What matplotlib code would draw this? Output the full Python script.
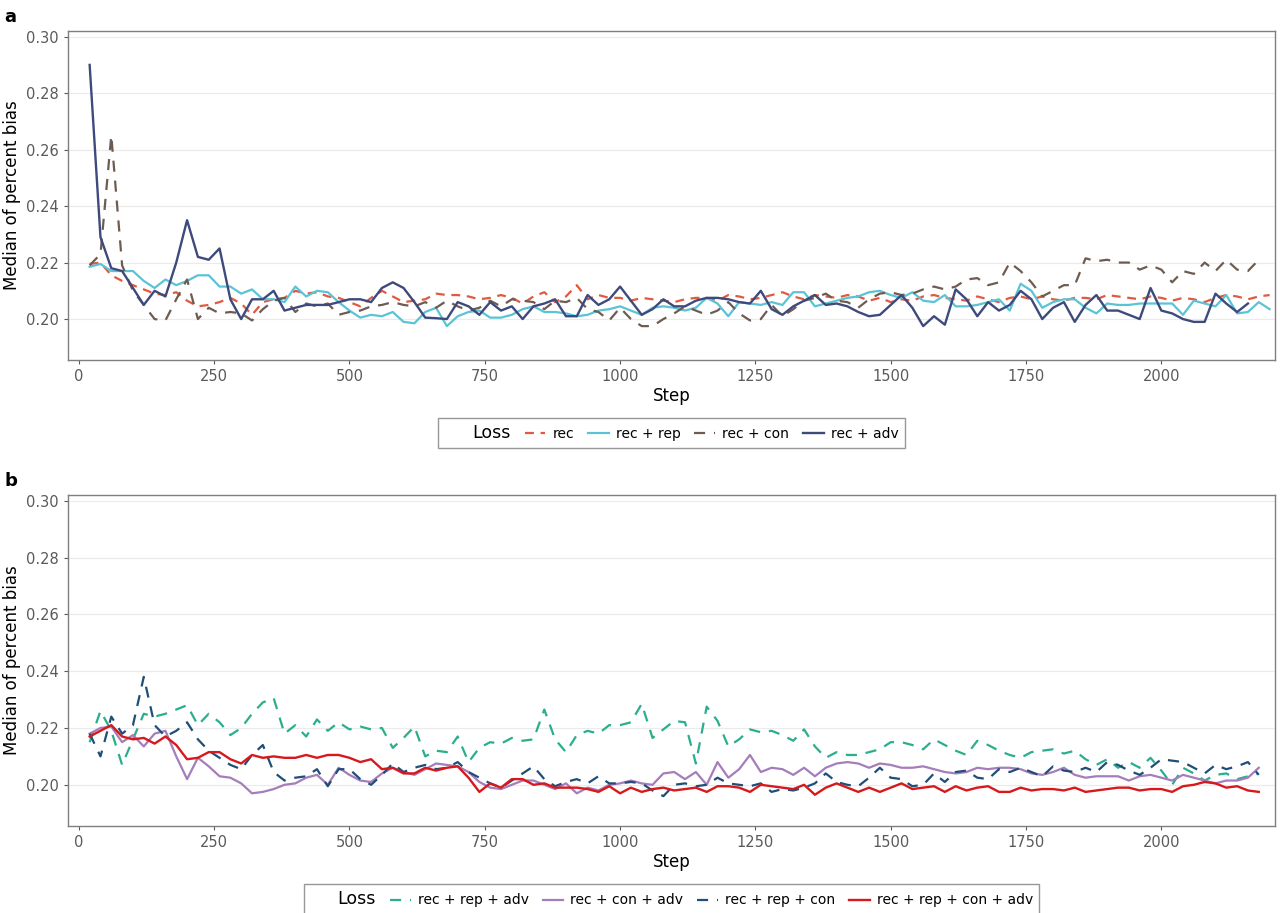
import numpy as np
import matplotlib
matplotlib.use("Agg")
import matplotlib.pyplot as plt
from matplotlib.lines import Line2D

rec = [.2195,.220,.2155,.2135,.212,.2105,.209,.2085,.2095,.2065,.2045,.205,.2060,.2075,.2055,.2015,.2060,.2070,.2075,.210,.209,.2095,.2080,.2075,.2060,.2045,.2075,.2100,.2080,.2060,.2065,.2070,.2090,.2085,.2085,.2080,.2070,.2075,.2085,.2075,.2055,.2080,.2095,.2060,.2080,.2120,.2070,.2085,.2075,.2075,.2065,.2075,.2070,.2065,.2060,.2070,.2075,.2075,.2065,.2085,.2080,.2070,.2075,.2085,.2095,.2080,.2070,.2085,.2080,.2075,.2085,.2080,.2065,.2075,.2060,.2070,.2065,.2080,.2085,.2075,.2070,.2065,.2080,.2070,.2060,.2075,.2080,.2070,.2080,.2070,.2065,.2075,.2075,.2070,.2085,.2080,.2075,.2070,.2080,.2075,.2065,.2075,.2070,.2060,.2075,.2085,.2080,.2070,.2080,.2085]
rec_rep = [.2185,.2195,.217,.217,.217,.2135,.211,.214,.212,.2135,.2155,.2155,.2115,.2115,.209,.2105,.207,.207,.206,.2115,.208,.210,.2095,.206,.203,.2005,.2015,.201,.2025,.199,
           .1985,.2025,.204,.1975,.201,.2025,.203,.2005,.2005,.2015,.2035,.2045,.2025,.2025,.2020,.2010,.2015,.203,.2035,.2045,.2030,.2015,.204,.2045,.2040,.203,.204,.2075,.2055,.201,.206,.2055,.205,.206,.205,.2095,.2095,.2045,.2055,.2065,.2075,.2080,.2095,.210,.2085,.2075,.2095,.2065,.206,.2085,.2045,.2045,.205,.206,.207,.203,.2125,.210,.2040,.206,.207,.207,.204,.202,.2055,.2050,.205,.2055,.2055,.2055,.2055,.2015,.2065,.2055,.2045,.2085,.202,.2025,.206,.2035]
rec_con = [.219,.223,.265,.219,.210,.205,.200,.1995,.207,.214,.200,.204,.202,.2025,.2020,.1995,.2035,.2065,.2075,.2025,.2055,.2045,.2055,.2015,.2025,.203,.2045,.2050,.2060,.2050,.2045,.2060,.2040,.2065,.2045,.2030,.2040,.2065,.2045,.2070,.2065,.2060,.2035,.2065,.2060,.2075,.2035,.2025,.1995,.2040,.2000,.1975,.1975,.2000,.2020,.2045,.2030,.2015,.2030,.2060,.2020,.1995,.2000,.2050,.2010,.2035,.2065,.2075,.2090,.2065,.2060,.2040,.2070,.2090,.2095,.2085,.2090,.2105,.2115,.2105,.2115,.2140,.2145,.2120,.2130,.2200,.2170,.2130,.2080,.2100,.2120,.2120,.2215,.2205,.2210,.2200,.2200,.2175,.2190,.2175,.2130,.2170,.2160,.2200,.2170,.2210,.2175,.2170,.2210]
rec_adv = [.290,.229,.218,.217,.211,.205,.210,.208,.220,.235,.222,.221,.225,.207,.200,.207,.207,.210,.203,.204,.205,.205,.205,.206,.207,.207,.206,.211,.213,.211,
           .206,.2005,.2003,.2000,.206,.2045,.2015,.206,.203,.2045,.200,.2045,.2055,.207,.201,.201,.2085,.205,.207,.2115,.2065,.2015,.2035,.207,.2045,.2045,.2065,.2075,.2075,.207,.206,.2055,.210,.2035,.2015,.2045,.2065,.2085,.205,.2055,.2045,.2025,
           .201,.2015,.205,.2085,.204,.1975,.201,.198,.2105,.207,.201,.206,.203,.205,.210,.207,.200,.204,.206,.199,.205,.2085,.203,.203,.2015,.200,.211,.203,.202,.200,.199,.199,.209,.2055,.2025,.2055]

rep_adv = [.215,.226,.219,.207,.216,.225,.224,.225,.2265,.228,.221,.225,.222,.2175,.220,.225,.229,.2305,.218,.221,.217,.223,.219,.222,.2195,.2205,.2195,.220,.213,.2165,.2205,.210,.212,.2115,.217,.208,.213,.215,.2145,.2165,.2155,.216,.2265,.216,.2115,.2175,.219,.218,.221,.221,.222,.2285,.2165,.2195,.2225,.222,.2075,.2275,.2225,.2135,.216,.2195,.2185,.219,.2175,.2155,.2195,.2135,.2095,.2115,.2105,.2105,.2115,.2125,.2150,.2150,.2140,.2125,.2160,.2140,.2120,.2105,.2155,.2140,.2120,.2105,.2095,.2115,.2120,.2125,.2110,.2120,.2090,.2070,.2090,.2060,.2080,.2060,.2095,.2050,.2000,.2060,.2040,.2015,.2035,.2040,.2020,.2030,.2040]
con_adv = [.218,.220,.2205,.215,.2175,.2135,.218,.219,.210,.202,.2095,.2065,.203,.2025,.2005,.197,.1975,.1985,.2,.2005,.2025,.2035,.2,.2060,.2035,.2015,.201,.204,.206,.2045,.2035,.2055,.2075,.207,.2065,.2045,.2010,.1990,.1985,.2000,.2015,.2015,.2000,.1985,.2005,.1970,.1990,.1980,.2000,.2005,.2015,.2005,.2000,.2040,.2045,.2020,.2045,.2000,.2080,.2025,.2055,.2105,.2045,.2060,.2055,.2035,.2060,.2030,.2060,.2075,.2080,.2075,.2060,.2075,.2070,.2060,.2060,.2065,.2055,.2045,.2040,.2045,.2060,.2055,.2060,.2060,.2055,.2040,.2035,.2045,.2060,.2035,.2025,.2030,.2030,.2030,.2015,.2030,.2035,.2025,.2015,.2035,.2025,.2015,.2005,.2015,.2015,.2025,.2060]
rep_con = [.218,.210,.224,.218,.221,.238,.221,.217,.219,.222,.216,.212,.2095,.207,.2055,.2105,.214,.2045,.2015,.2025,.203,.2055,.1995,.2055,.2055,.202,.200,.2035,.2075,.2045,.206,.207,.2055,.206,.208,.2045,.2025,.2005,.199,.2015,.204,.2065,.2020,.1995,.2010,.2020,.2005,.2030,.2005,.2005,.201,.2005,.198,.196,.200,.2005,.1995,.200,.2025,.2005,.2000,.1995,.2005,.1975,.1985,.1980,.1990,.2005,.2040,.2010,.2000,.1995,.2025,.2060,.2025,.2020,.1995,.2000,.2040,.2010,.2045,.2050,.2025,.2020,.2055,.2045,.2060,.2045,.2030,.2065,.2050,.2045,.2060,.2045,.2080,.2070,.2050,.2035,.2060,.2090,.2085,.2080,.2060,.2040,.2070,.2055,.2065,.2080,.2035]
all4 = [.217,.219,.221,.217,.216,.2165,.2145,.217,.214,.209,.2095,.2115,.2115,.209,.2075,.2105,.2095,.210,.2095,.2095,.2105,.2095,.2105,.2105,.2095,.2080,.2090,.2055,.2060,.2040,.2040,.2060,.2050,.2060,.2065,.2025,.1975,.2005,.1990,.2020,.2020,.2000,.2005,.1990,.1990,.1990,.1985,.1975,.1995,.1970,.1990,.1975,.1985,.1990,.1980,.1985,.1990,.1975,.1995,.1995,.1990,.1975,.2000,.1995,.1990,.1985,.2000,.1965,.1990,.2005,.1990,.1975,.1990,.1975,.1990,.2005,.1985,.1990,.1995,.1975,.1995,.1980,.1990,.1995,.1975,.1975,.1990,.1980,.1985,.1985,.1980,.1990,.1975,.1980,.1985,.1990,.1990,.1980,.1985,.1985,.1975,.1995,.2000,.2010,.2005,.1990,.1995,.1980,.1975]

labels_a = ["rec", "rec + rep", "rec + con", "rec + adv"]
labels_b = ["rec + rep + adv", "rec + con + adv", "rec + rep + con", "rec + rep + con + adv"]

def steps(v):
    return 20 * (np.arange(len(v)) + 1)

fig = plt.figure(figsize=(12.8, 9.13), dpi=100)
W, H = 1280, 913
def ax_at(l, t, r, b):
    return fig.add_axes([l / W, 1 - b / H, (r - l) / W, (b - t) / H])

axa = ax_at(68, 31, 1275, 360)
axb = ax_at(68, 495, 1275, 826)

dash1 = (0, (4, 3))
dash2 = (0, (5, 4))
styles_a = [("#E05A3F", dash1, 1.6), ("#5BC3D6", "-", 1.6), ("#6E5C52", dash2, 1.6), ("#3E4A7C", "-", 1.7)]
styles_b = [("#2BAE8E", dash2, 1.6), ("#A57DBA", "-", 1.6), ("#1F4E79", dash2, 1.6), ("#D7191C", "-", 1.7)]

for ax, series, labels, styles, yl in [
        (axa, [rec, rec_rep, rec_con, rec_adv], labels_a, styles_a, "a"),
        (axb, [rep_adv, con_adv, rep_con, all4], labels_b, styles_b, "b")]:
    handles = [Line2D([], [], color="none", label="Loss")]
    for v, lab, (c, ls, lw) in zip(series, labels, styles):
        h, = ax.plot(steps(v), v, color=c, linestyle=ls, linewidth=lw, label=lab)
        handles.append(h)
    ax.set_xlim(-20, 2210)
    ax.set_ylim(0.1855, 0.302)
    ax.set_yticks([0.20, 0.22, 0.24, 0.26, 0.28, 0.30])
    ax.set_xticks([0, 250, 500, 750, 1000, 1250, 1500, 1750, 2000])
    ax.yaxis.grid(True, color="#EBEBEB", linewidth=0.8)
    ax.set_axisbelow(True)
    for s in ax.spines.values():
        s.set_color("#7F7F7F")
        s.set_linewidth(1.0)
    ax.tick_params(colors="#5A5A5A", labelsize=10.5, length=3)
    ax.set_xlabel("Step", fontsize=12, labelpad=2)
    ax.set_ylabel("Median of percent bias", fontsize=12)
    fig.text(4 / W, 1 - (8 if yl == "a" else 472) / H, yl,
             fontsize=13, fontweight="bold", va="top")
    leg = ax.legend(handles=handles, loc="upper center", bbox_to_anchor=(0.5, -0.155),
                    ncol=5, frameon=True, fancybox=False, fontsize=10,
                    handlelength=1.5, handletextpad=0.5, columnspacing=1.0,
                    borderpad=0.45)
    leg.get_frame().set_edgecolor("#7F7F7F")
    leg.get_texts()[0].set_fontsize(12.5)

fig.savefig("out.png", dpi=100, facecolor="white")
